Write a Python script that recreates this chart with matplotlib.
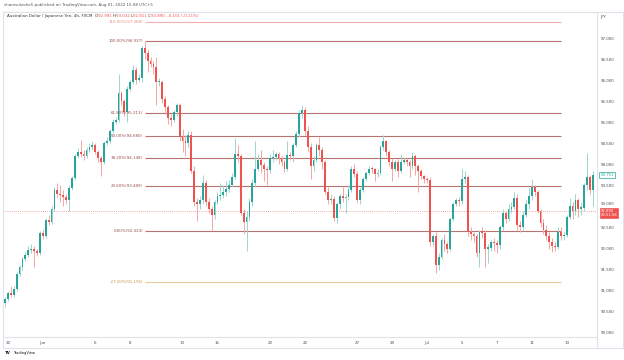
import matplotlib
matplotlib.use("Agg")
import matplotlib.pyplot as plt
from matplotlib.lines import Line2D

# AUD/JPY 4h candles (6 candles per trading day)
first_open = 90.70
closes = [
    90.80, 90.95, 90.90, 91.05, 91.40, 91.55,
    91.75, 91.85, 91.97, 92.00, 91.93, 91.90,
    92.37, 92.30, 92.68, 92.62, 92.95, 93.39,
    93.30, 93.28, 93.22, 93.15, 93.44, 93.67,
    94.20, 94.30, 94.25, 94.20, 94.34, 94.40,
    94.45, 94.30, 94.15, 94.05, 94.50, 94.55,
    94.80, 95.00, 95.05, 95.70, 95.50, 95.25,
    95.80, 95.95, 96.25, 96.00, 96.05, 96.76,
    96.65, 96.45, 96.38, 96.30, 95.95, 95.95,
    95.55, 95.35, 95.10, 95.05, 95.25, 95.40,
    94.65, 94.55, 94.50, 94.70, 93.85, 93.10,
    93.05, 93.15, 93.55, 93.10, 92.95, 92.80,
    93.10, 93.25, 93.28, 93.35, 93.42, 93.50,
    93.70, 94.25, 94.20, 92.85, 92.63, 92.75,
    93.10, 93.55, 93.90, 94.10, 93.98, 93.88,
    93.86, 94.15, 94.18, 94.25, 94.15, 94.05,
    93.90, 94.22, 94.20, 94.45, 94.72, 95.22,
    95.28, 94.80, 94.40, 93.95, 94.10, 94.45,
    94.35, 94.05, 93.35, 93.15, 93.18, 92.72,
    93.05, 93.25, 93.20, 93.22, 93.40, 93.90,
    93.78, 93.15, 93.40, 93.65, 93.80, 93.90,
    93.88, 93.78, 93.80, 94.40, 94.55, 94.30,
    94.05, 93.90, 94.05, 93.85, 94.05, 94.10,
    94.05, 93.95, 94.20, 93.95, 93.85, 93.72,
    93.65, 93.62, 92.15, 92.30, 91.60, 91.80,
    92.20, 92.10, 92.00, 92.70, 93.05, 93.15,
    93.12, 93.65, 93.70, 92.40, 92.35, 92.30,
    91.90, 92.40, 92.38, 92.00, 92.02, 92.15,
    92.12, 92.08, 92.50, 92.85, 92.70, 92.95,
    92.98, 93.20, 92.55, 92.50, 92.80, 93.05,
    93.25, 93.45, 93.35, 92.90, 92.60, 92.45,
    92.30, 92.15, 92.05, 92.03, 92.40, 92.30,
    92.32, 92.75, 93.00, 92.90, 93.15, 92.95,
    92.97, 93.50, 93.70, 93.40, 93.75,
]
highs = [
    90.85, 91.00, 91.10, 91.12, 91.45, 91.62,
    91.80, 91.92, 92.05, 92.10, 92.06, 92.00,
    92.42, 92.45, 92.72, 92.80, 93.00, 93.45,
    93.55, 93.52, 93.40, 93.30, 93.50, 93.72,
    94.25, 94.38, 94.58, 94.35, 94.40, 94.50,
    94.55, 94.50, 94.35, 94.20, 94.55, 94.65,
    94.85, 95.08, 95.12, 96.15, 95.75, 95.55,
    95.85, 96.00, 96.35, 96.30, 96.15, 96.80,
    96.94, 96.75, 96.55, 96.45, 96.55, 96.05,
    96.00, 95.62, 95.40, 95.20, 95.30, 95.45,
    95.45, 94.85, 94.70, 94.80, 94.78, 93.95,
    93.20, 93.25, 93.75, 93.62, 93.20, 93.00,
    93.15, 93.35, 93.55, 93.50, 93.60, 93.62,
    93.80, 94.62, 94.45, 94.25, 92.95, 92.90,
    93.20, 93.65, 94.55, 94.25, 94.35, 94.05,
    93.95, 94.25, 94.35, 94.30, 94.30, 94.20,
    94.10, 94.55, 94.30, 94.50, 94.80, 95.28,
    95.40, 95.35, 94.90, 94.50, 94.20, 94.50,
    94.65, 94.40, 94.10, 93.45, 93.30, 93.25,
    93.10, 93.30, 93.45, 93.30, 93.50, 93.95,
    94.00, 93.85, 93.45, 93.70, 93.85, 93.95,
    93.95, 93.92, 93.88, 94.45, 94.70, 94.58,
    94.35, 94.15, 94.10, 94.12, 94.25, 94.15,
    94.15, 94.10, 94.30, 94.25, 94.00, 93.90,
    93.75, 93.70, 93.70, 92.35, 92.40, 91.90,
    92.25, 92.35, 92.15, 92.75, 93.10, 93.20,
    93.22, 93.90, 93.85, 93.75, 92.50, 92.40,
    92.35, 92.45, 92.50, 92.45, 92.10, 92.20,
    92.25, 92.20, 92.55, 92.95, 92.90, 93.05,
    93.10, 93.35, 93.30, 92.65, 92.90, 93.15,
    93.45, 93.65, 93.50, 93.40, 92.95, 92.70,
    92.55, 92.40, 92.25, 92.15, 92.50, 92.50,
    92.40, 92.80, 93.20, 93.10, 93.30, 93.20,
    93.10, 93.55, 94.27, 93.75, 93.85,
]
lows = [
    90.62, 90.75, 90.85, 90.85, 91.00, 91.35,
    91.50, 91.70, 91.80, 91.90, 91.55, 91.82,
    91.85, 92.22, 92.25, 92.55, 92.58, 92.90,
    93.20, 93.10, 93.00, 93.05, 92.88, 93.38,
    93.62, 94.15, 94.18, 94.10, 94.15, 94.30,
    94.35, 94.25, 94.05, 93.72, 94.00, 94.45,
    94.50, 94.75, 94.95, 95.00, 95.40, 95.15,
    95.00, 95.75, 95.90, 95.90, 95.95, 95.95,
    96.50, 96.20, 96.30, 96.15, 95.40, 95.85,
    95.45, 95.20, 94.95, 94.90, 95.00, 95.15,
    94.55, 94.30, 94.20, 94.40, 93.80, 93.00,
    92.65, 92.95, 93.05, 93.00, 92.85, 92.45,
    92.70, 93.05, 93.15, 93.20, 93.25, 93.35,
    93.45, 93.65, 94.05, 92.80, 92.35, 91.95,
    92.65, 93.00, 93.45, 93.85, 93.80, 93.60,
    93.50, 93.80, 94.05, 94.10, 94.00, 93.95,
    93.82, 93.85, 94.10, 94.05, 94.40, 94.65,
    95.10, 94.70, 94.30, 93.65, 93.85, 94.05,
    94.20, 93.90, 93.30, 93.05, 93.05, 92.65,
    92.60, 92.95, 93.10, 92.85, 93.15, 93.35,
    93.70, 93.10, 93.05, 93.35, 93.60, 93.75,
    93.80, 93.60, 93.70, 93.75, 94.35, 94.20,
    93.95, 93.60, 93.85, 93.70, 93.80, 94.00,
    93.95, 93.70, 93.90, 93.75, 93.35, 93.65,
    93.55, 93.55, 92.05, 92.05, 91.42, 91.50,
    91.75, 91.95, 91.90, 91.95, 92.65, 93.00,
    93.00, 93.05, 93.55, 92.30, 92.20, 92.15,
    91.80, 91.55, 92.25, 91.55, 91.65, 91.95,
    91.95, 91.90, 92.00, 92.45, 92.60, 92.65,
    92.85, 92.95, 92.45, 92.40, 92.45, 92.75,
    92.95, 93.15, 93.25, 92.85, 92.50, 92.35,
    92.20, 92.00, 91.92, 91.95, 92.00, 92.20,
    92.20, 92.28, 92.70, 92.70, 92.80, 92.75,
    92.80, 92.90, 93.40, 93.30, 93.00,
]
opens = [first_open] + closes[:-1]

fib_names = ["110.00%", "100.00%", "61.80%", "50.00%", "38.20%", "23.60%", "0.00%", "-27.20%"]
fib_prices = [97.388, 96.937, 95.213, 94.680, 94.148, 93.489, 92.424, 91.196]
fib_colors = ["#f4b0b0", "#b8726f", "#b8726f", "#b8726f", "#b8726f", "#b8726f", "#b8726f", "#e4cd98"]
fib_text = ["#ee8c8c", "#9a4f4c", "#9a4f4c", "#9a4f4c", "#9a4f4c", "#9a4f4c", "#9a4f4c", "#c49a45"]
fib_start, fib_end = 48, 191

date_labels = ["30", "Jun", "6", "8", "13", "15", "20", "22", "27", "29", "Jul", "5", "7", "11", "13"]
date_index = [1, 13, 31, 43, 61, 73, 91, 103, 121, 133, 145, 157, 169, 181, 193]
price_ticks = [90.0, 90.5, 91.0, 91.5, 92.0, 92.5, 93.0, 93.5, 94.0, 94.5,
               95.0, 95.5, 96.0, 96.5, 97.0]
last_price = 92.890
last_visible = 93.751

UP, DOWN = "#26a69a", "#ef5350"
UP_W, DOWN_W = "#9bd6cf", "#f6a6a4"
BORDER = "#e0e3eb"
FS = 2.9

fig = plt.figure(figsize=(6.24, 3.6), dpi=100)
W, H = 624, 360
ax = fig.add_axes([3 / W, 1 - 337 / H, 594 / W, 325 / H])
ax.set_xlim(-0.69, 203.4)
ax.set_ylim(89.898, 97.618)

n = len(closes)
xs = list(range(n))
up = [c >= o for o, c in zip(opens, closes)]
ax.vlines(xs, lows, highs, colors=[UP_W if u else DOWN_W for u in up], linewidth=0.7, zorder=2)
bottoms = [min(o, c) for o, c in zip(opens, closes)]
heights = [max(abs(c - o), 0.025) for o, c in zip(opens, closes)]
ax.bar(xs, heights, bottom=bottoms, width=0.62, color=[UP if u else DOWN for u in up],
       linewidth=0, zorder=3)

for name, p, lc, tc in zip(fib_names, fib_prices, fib_colors, fib_text):
    ax.hlines(p, fib_start, fib_end, colors=lc, linewidth=0.8, zorder=1)
    ax.text(fib_start - 0.6, p, f"{name}({p:.3f})", ha="right", va="center",
            fontsize=FS, color=tc, zorder=4)

ax.axhline(last_price, color="#f28b89", linewidth=0.6, linestyle=(0, (1, 1.5)), zorder=1)

ax.yaxis.tick_right()
ax.set_yticks(price_ticks)
ax.set_yticklabels([f"{t:.3f}" for t in price_ticks])
ax.set_xticks(date_index)
ax.set_xticklabels(date_labels)
ax.tick_params(axis="both", length=0, labelsize=FS, colors="#4a4a4a")
ax.tick_params(axis="y", pad=3)
ax.tick_params(axis="x", pad=3)
for s in ax.spines.values():
    s.set_color(BORDER)
    s.set_linewidth(0.8)

# the 93.000 label sits just above the live price box
for lbl, t in zip(ax.get_yticklabels(), price_ticks):
    if t == 93.0:
        lbl.set_verticalalignment("bottom")

# price boxes on the right scale
ax.annotate(f"{last_visible:.3f}", xy=(1.0, last_visible), xycoords=("axes fraction", "data"),
            xytext=(2.5, 0), textcoords="offset points", ha="left", va="center",
            fontsize=FS, color=UP,
            bbox=dict(boxstyle="square,pad=0.25", fc="white", ec=UP, lw=0.5))
ax.annotate(f"{last_price:.3f}\n00:51:56", xy=(1.0, last_price), xycoords=("axes fraction", "data"),
            xytext=(2.5, -1.2), textcoords="offset points", ha="left", va="center",
            fontsize=FS * 0.92, color="white", linespacing=1.05,
            bbox=dict(boxstyle="square,pad=0.2", fc=DOWN, ec=DOWN, lw=0.5))

# frame lines around chart and time scale
fig.add_artist(Line2D([3 / W, 623 / W], [1 - 12 / H, 1 - 12 / H], color=BORDER, lw=0.8))
fig.add_artist(Line2D([3 / W, 623 / W], [1 - 348 / H, 1 - 348 / H], color=BORDER, lw=0.8))
fig.add_artist(Line2D([623 / W, 623 / W], [1 - 12 / H, 1 - 348 / H], color=BORDER, lw=0.8))
fig.add_artist(Line2D([3 / W, 3 / W], [1 - 337 / H, 1 - 348 / H], color=BORDER, lw=0.8))
fig.add_artist(Line2D([597 / W, 597 / W], [1 - 337 / H, 1 - 348 / H], color=BORDER, lw=0.8))

fig.text(600 / W, 1 - 17 / H, "JPY", fontsize=FS, color="#4a4a4a", va="center")
fig.text(4 / W, 1 - 5 / H, "shamsulzohe5 published on TradingView.com, Aug 01, 2022 15:08 UTC+5",
         fontsize=FS, color="#555555", va="center")

# legend line with coloured OHLC values
pieces = [("Australian Dollar / Japanese Yen, 4h, FXCM  ", "#333333"),
          ("O", "#333333"), ("92.991 ", DOWN), ("H", "#333333"), ("93.032 ", DOWN),
          ("L", "#333333"), ("92.811 ", DOWN), ("C", "#333333"), ("92.890  -0.101 (-0.11%)", DOWN)]
renderer = fig.canvas.get_renderer()
x = 7 / W
for txt, col in pieces:
    t = fig.text(x, 1 - 16 / H, txt, fontsize=FS, color=col, va="center")
    bb = t.get_window_extent(renderer=renderer)
    x += bb.width / fig.bbox.width

fig.text(5 / W, 1 - 353 / H, "TV", fontsize=FS, fontweight="bold", color="#131722", va="center")
fig.text(13 / W, 1 - 353 / H, "TradingView", fontsize=FS * 0.9, color="#131722", va="center")

fig.savefig("out.png", dpi=100)
